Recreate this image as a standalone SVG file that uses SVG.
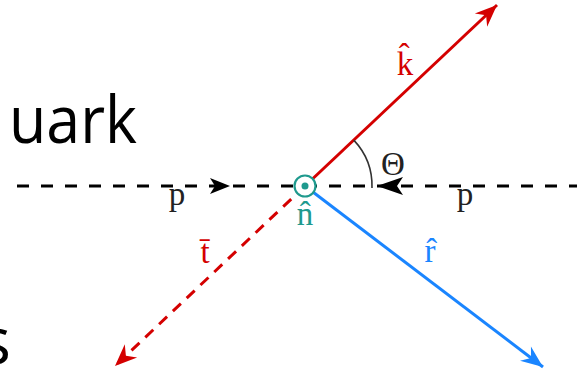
<svg xmlns="http://www.w3.org/2000/svg" width="577" height="371" viewBox="0 0 577 371">
<defs>
<style>
.lbl{font-family:"Liberation Serif","DejaVu Serif",serif;font-size:33px;text-anchor:middle}
.big{font-family:"Open Sans","Noto Sans",sans-serif;font-size:66px;fill:#000}
</style>
<marker id="hr" markerUnits="userSpaceOnUse" markerWidth="30" markerHeight="30" refX="0" refY="0" viewBox="-22 -15 30 30" orient="auto" overflow="visible">
<path d="M0,0 L-22,-9 L-15,0 L-22,9 Z" fill="#d40000"/>
</marker>
<marker id="hb" markerUnits="userSpaceOnUse" markerWidth="30" markerHeight="30" refX="0" refY="0" viewBox="-22 -15 30 30" orient="auto" overflow="visible">
<path d="M0,0 L-22,-9 L-15,0 L-22,9 Z" fill="#1a85ff"/>
</marker>
</defs>
<rect width="577" height="371" fill="#fff"/>
<text class="big" x="9" y="143" textLength="128" lengthAdjust="spacingAndGlyphs">uark</text>
<text class="big" x="11" y="364" text-anchor="end">s</text>
<g id="connectors">
<line id="beam" x1="17" y1="186" x2="577" y2="186" stroke="#000" stroke-width="3" stroke-dasharray="12 12"/>
<polygon points="230,186 210,178 215,186 210,194" fill="#000"/>
<polygon points="377,186 403,177 397,186 403,195" fill="#000"/>
<line x1="305" y1="186" x2="497" y2="5" stroke="#d40000" stroke-width="3" marker-end="url(#hr)"/>
<line x1="305" y1="186" x2="115" y2="366" stroke="#d40000" stroke-width="3" stroke-dasharray="11 8" marker-end="url(#hr)"/>
<line x1="305" y1="186" x2="543" y2="367" stroke="#1a85ff" stroke-width="3" marker-end="url(#hb)"/>
<path d="M353.8,140.1 A67,67 0 0 1 372,188" fill="none" stroke="#333" stroke-width="1.6"/>
</g>
<g id="origin">
<circle cx="305" cy="186" r="10.5" fill="#fff" stroke="#1f9a8e" stroke-width="2.2"/>
<circle cx="305" cy="186" r="3.5" fill="#1f9a8e"/>
</g>
<g id="labels">
<text class="lbl" x="405" y="75" fill="#d40000">k̂</text>
<text class="lbl" x="393" y="175" fill="#222">Θ</text>
<text class="lbl" x="177" y="205" fill="#222">p</text>
<text class="lbl" x="465" y="205" fill="#222">p</text>
<text class="lbl" x="305" y="225" fill="#1f9a8e">n̂</text>
<text class="lbl" x="205" y="263" fill="#d40000">t̄</text>
<text class="lbl" x="430" y="262" fill="#1a85ff">r̂</text>
</g>
</svg>
